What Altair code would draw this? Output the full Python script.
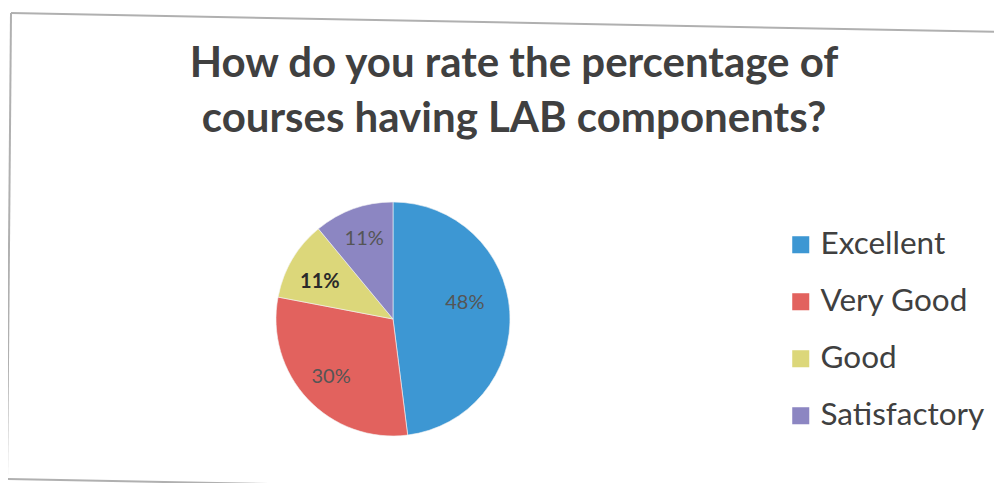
import altair as alt
import pandas as pd

categories = ["Excellent", "Very Good", "Good", "Satisfactory"]
values = [48, 30, 11, 11]
labels = ["48%", "30%", "11%", "11%"]
colors = ["#3d97d3", "#e2625e", "#dcd77a", "#8c86c2"]
title_lines = ["How do you rate the percentage of", "courses having LAB components?"]

df = pd.DataFrame({
    "category": categories,
    "value": values,
    "label": labels,
    "order": list(range(len(categories))),
})

CX, CY, R = 385, 311, 117
FONT = "Lato"

color_scale = alt.Scale(domain=categories, range=colors)

base = alt.Chart(df).encode(
    theta=alt.Theta("value:Q", stack=True),
    order=alt.Order("order:Q"),
)

pie = base.mark_arc(radius=R, stroke="#f4f4f4", strokeWidth=0.6).encode(
    x=alt.value(CX),
    y=alt.value(CY),
    color=alt.Color(
        "category:N",
        scale=color_scale,
        sort=categories,
        legend=alt.Legend(
            title=None,
            orient="none",
            legendX=777,
            legendY=221,
            symbolType="square",
            symbolSize=290,
            symbolStrokeWidth=0,
            labelFont=FONT,
            labelFontSize=31.5,
            labelColor="#404040",
            labelOffset=4,
            labelLimit=400,
            rowPadding=24,
        ),
    ),
)


def label_layer(sel, radius, dy=0, bold=False):
    kw = dict(radius=radius, font=FONT, fontSize=20, dy=dy,
              color="#2a2a2a" if bold else "#555555")
    if bold:
        kw["fontWeight"] = "bold"
    return base.mark_text(**kw).encode(
        x=alt.value(CX),
        y=alt.value(CY),
        text="label:N",
        opacity=alt.condition(sel, alt.value(1), alt.value(0)),
    )


text_big = label_layer("datum.category == 'Excellent'", 72, dy=-11)
text_mid = label_layer("datum.category == 'Very Good' || datum.category == 'Satisfactory'", 85)
text_bold = label_layer("datum.category == 'Good'", 85, dy=6, bold=True)

tdf = pd.DataFrame({"line": title_lines, "i": [0, 1]})
title = alt.Chart(tdf).mark_text(
    font=FONT, fontSize=42, fontWeight="bold", color="#404040", baseline="alphabetic", align="center"
).encode(
    text="line:N",
    x=alt.value(506),
    y=alt.Y("i:Q", scale=alt.Scale(domain=[0, 1], range=[69, 124]), axis=None),
)

frame_df = pd.DataFrame({"k": [0]})
frame = alt.layer(
    alt.Chart(frame_df).mark_rule(color="#b0b0b0", strokeWidth=2).encode(
        x=alt.value(3), y=alt.value(5), x2=alt.value(994), y2=alt.value(24)),
    alt.Chart(frame_df).mark_rule(color="#b0b0b0", strokeWidth=2).encode(
        x=alt.value(3), y=alt.value(5), x2=alt.value(-1), y2=alt.value(471)),
    alt.Chart(frame_df).mark_rule(color="#b0b0b0", strokeWidth=2).encode(
        x=alt.value(-1), y=alt.value(471), x2=alt.value(994), y2=alt.value(490)),
)

chart = alt.layer(frame, pie, text_big, text_mid, text_bold, title).properties(
    width=986, height=475, autosize=alt.AutoSizeParams(type="none"), padding=0,
    background="white",
).configure_view(stroke=None)

chart.save("out.html", embed_options={"renderer": "svg", "actions": False})
